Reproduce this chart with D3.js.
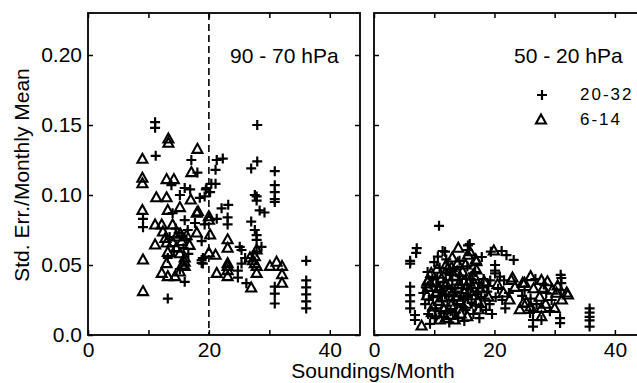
<!DOCTYPE html>
<html>
<head>
<meta charset="utf-8">
<script src="https://cdn.jsdelivr.net/npm/d3@7"></script>
<style>
  body { margin: 0; background: #fff; }
  svg { display: block; }
</style>
</head>
<body>
<div id="chart"></div>
<script>
// x = soundings per month, y = std. err. / monthly mean
const leftPlus = [
  [11.1, 0.152], [11.1, 0.148], [11.2, 0.128], [17.1, 0.125], [18.1, 0.116], [13.8, 0.107],
  [16.0, 0.105], [16.9, 0.104], [15.2, 0.100], [18.5, 0.098], [19.5, 0.104], [14.0, 0.087],
  [9.1, 0.083], [9.1, 0.077], [16.0, 0.082], [17.7, 0.080], [15.5, 0.071], [16.3, 0.068],
  [13.2, 0.055], [16.0, 0.038], [13.2, 0.026], [19.0, 0.055], [19.0, 0.051], [14.5, 0.076],
  [15.0, 0.073], [16.5, 0.075], [13.5, 0.070], [15.8, 0.062], [14.2, 0.060], [16.6, 0.058],
  [15.2, 0.047],
  [28.0, 0.150], [21.3, 0.125], [22.3, 0.126], [21.1, 0.118], [28.0, 0.124], [27.0, 0.119],
  [30.9, 0.117], [30.9, 0.107], [30.9, 0.102], [30.9, 0.097], [30.9, 0.095], [20.4, 0.108],
  [21.1, 0.108], [19.6, 0.105], [20.2, 0.102], [19.3, 0.099], [27.9, 0.099], [27.6, 0.100],
  [27.9, 0.096], [23.2, 0.093], [22.1, 0.0905], [23.1, 0.084], [23.1, 0.079], [28.4, 0.089],
  [29.2, 0.0875], [21.3, 0.083], [19.3, 0.079], [27.0, 0.081], [27.6, 0.075], [27.9, 0.0714],
  [27.9, 0.068], [28.7, 0.063], [27.9, 0.0595], [18.8, 0.067], [25.1, 0.063], [25.4, 0.0607],
  [18.8, 0.0535], [18.8, 0.0515], [26.0, 0.055], [25.4, 0.051], [24.8, 0.046], [24.8, 0.041],
  [26.2, 0.037], [30.9, 0.0345], [30.9, 0.0295], [30.9, 0.0225],
  [36.1, 0.053], [36.1, 0.039], [36.1, 0.034], [36.1, 0.029], [36.1, 0.024], [36.1, 0.019]
];

const leftTri = [
  [13.3, 0.140], [13.3, 0.137], [9.0, 0.1255], [18.1, 0.1326], [17.1, 0.116], [9.0, 0.112],
  [9.0, 0.108], [13.0, 0.111], [14.2, 0.111], [11.3, 0.098], [13.0, 0.098], [17.0, 0.0964],
  [9.0, 0.089], [13.2, 0.089], [15.2, 0.091], [18.2, 0.088], [11.1, 0.0786], [12.2, 0.0786],
  [14.0, 0.0786], [12.4, 0.0736], [11.1, 0.0643], [13.0, 0.0657], [13.2, 0.059], [15.5, 0.0667],
  [9.1, 0.0536], [13.0, 0.051], [16.0, 0.055], [16.0, 0.052], [16.0, 0.049], [15.6, 0.050],
  [12.2, 0.044], [13.2, 0.0417], [14.4, 0.0417], [15.2, 0.045], [9.1, 0.031], [14.6, 0.070],
  [15.3, 0.072], [16.3, 0.071], [14.0, 0.066], [12.8, 0.069], [16.8, 0.064], [14.6, 0.062],
  [15.2, 0.058],
  [18.0, 0.087], [18.0, 0.0729], [20.2, 0.0714], [20.0, 0.0845], [20.0, 0.082], [23.1, 0.068],
  [23.1, 0.062], [27.9, 0.0607], [27.6, 0.056], [27.6, 0.051], [27.9, 0.049], [27.9, 0.044],
  [27.3, 0.053], [20.0, 0.0586], [21.1, 0.057], [26.8, 0.055], [23.1, 0.051], [23.1, 0.049],
  [23.1, 0.046], [23.1, 0.0417], [21.3, 0.044], [27.0, 0.0336], [30.1, 0.049], [31.2, 0.052],
  [32.1, 0.049], [32.1, 0.043], [32.1, 0.037]
];

const rightPlus = [
  [10.8, 0.078], [7.1, 0.062], [7.0, 0.0586], [6.0, 0.053], [6.0, 0.051], [6.0, 0.0345],
  [6.0, 0.0285], [6.0, 0.024], [6.0, 0.019], [6.8, 0.0143], [6.8, 0.0107], [11.8, 0.0595],
  [10.6, 0.056], [11.4, 0.060], [15.6, 0.064], [15.6, 0.0607], [15.9, 0.065], [17.9, 0.0557],
  [19.4, 0.0595], [21.2, 0.060], [22.0, 0.057], [23.2, 0.0536], [20.1, 0.050], [20.1, 0.046],
  [20.1, 0.044], [20.9, 0.0417], [21.6, 0.039], [19.3, 0.039], [31.1, 0.0407], [31.1, 0.037],
  [31.0, 0.032], [31.0, 0.043], [30.9, 0.012], [30.9, 0.0085], [26.4, 0.0167], [26.4, 0.0107],
  [26.4, 0.006], [27.8, 0.0107], [25.9, 0.0157], [35.8, 0.019], [35.8, 0.016], [35.8, 0.013],
  [35.8, 0.0105], [35.8, 0.006], [8.9, 0.045],
  [8.2, 0.030], [8.5, 0.022], [9.0, 0.015], [9.4, 0.036], [9.8, 0.027], [10.2, 0.019],
  [10.5, 0.041], [10.9, 0.048], [11.0, 0.032], [11.3, 0.024], [11.6, 0.013], [11.9, 0.044],
  [12.1, 0.035], [12.4, 0.028], [12.7, 0.017], [13.0, 0.039], [13.2, 0.047], [13.5, 0.031],
  [13.8, 0.022], [14.0, 0.012], [14.3, 0.042], [14.6, 0.036], [14.9, 0.026], [15.2, 0.018],
  [15.5, 0.049], [15.7, 0.033], [16.0, 0.040], [16.2, 0.023], [16.5, 0.015], [16.8, 0.045],
  [17.1, 0.029], [17.4, 0.037], [17.7, 0.020], [18.0, 0.034], [18.4, 0.026], [18.8, 0.031],
  [19.2, 0.022], [19.6, 0.015], [20.2, 0.027], [20.6, 0.033], [21.3, 0.025], [21.8, 0.019],
  [22.4, 0.030], [10.0, 0.052], [12.0, 0.054], [14.2, 0.053], [9.3, 0.008], [12.5, 0.009],
  [15.0, 0.010], [17.5, 0.012], [25.0, 0.032], [26.0, 0.026], [27.0, 0.022], [28.6, 0.030],
  [29.5, 0.025], [28.2, 0.036], [26.8, 0.040], [24.6, 0.028], [29.2, 0.017],
  [8.6, 0.034], [9.1, 0.025], [9.7, 0.040], [10.1, 0.012], [10.4, 0.035], [10.7, 0.028],
  [11.1, 0.017], [11.5, 0.038], [11.8, 0.029], [12.2, 0.021], [12.6, 0.043], [12.9, 0.033],
  [13.3, 0.025], [13.6, 0.016], [13.9, 0.036], [14.5, 0.030], [14.8, 0.020], [15.3, 0.040],
  [15.6, 0.027], [16.1, 0.034], [16.4, 0.044], [16.9, 0.021], [17.3, 0.031], [17.8, 0.027],
  [18.2, 0.040], [18.6, 0.018], [19.0, 0.035]
];

const rightTri = [
  [7.9, 0.0064], [9.0, 0.039], [15.6, 0.057], [17.0, 0.0524], [17.0, 0.0464], [15.9, 0.0595],
  [16.9, 0.0536], [19.9, 0.060], [13.9, 0.051], [23.0, 0.0407], [22.8, 0.039], [26.0, 0.0417],
  [27.8, 0.039], [25.0, 0.037], [28.1, 0.0333], [24.7, 0.037], [32.2, 0.0286], [32.0, 0.030],
  [30.3, 0.0298], [30.0, 0.019], [25.3, 0.0229], [24.8, 0.0226], [27.8, 0.019], [27.8, 0.013],
  [10.9, 0.0107], [13.4, 0.0107], [8.9, 0.038], [9.0, 0.034],
  [9.5, 0.044], [10.3, 0.030], [10.8, 0.024], [11.2, 0.040], [11.6, 0.018], [12.2, 0.047],
  [12.5, 0.031], [12.8, 0.021], [13.3, 0.042], [13.6, 0.027], [14.1, 0.036], [14.4, 0.015],
  [14.7, 0.045], [15.0, 0.030], [15.4, 0.022], [15.8, 0.038], [16.3, 0.028], [16.6, 0.042],
  [17.2, 0.024], [17.6, 0.033], [18.3, 0.038], [19.0, 0.027], [20.5, 0.036], [21.5, 0.030],
  [22.5, 0.025], [23.4, 0.034], [9.8, 0.020], [11.9, 0.012], [13.0, 0.055], [14.0, 0.062],
  [12.0, 0.050], [10.5, 0.047], [26.5, 0.033], [27.5, 0.027], [28.8, 0.038], [29.6, 0.032],
  [31.2, 0.025], [26.0, 0.020], [28.5, 0.022], [30.5, 0.035],
  [8.8, 0.028], [9.6, 0.016], [10.1, 0.037], [10.9, 0.033], [11.4, 0.027], [12.0, 0.036],
  [12.6, 0.014], [13.1, 0.030], [13.8, 0.045], [14.3, 0.024], [14.9, 0.038], [15.5, 0.013],
  [16.0, 0.031], [16.7, 0.036], [17.4, 0.018], [12.9, 0.048], [15.2, 0.050], [24.2, 0.018]
];

const xTicks = [0, 10, 20, 30, 40];
const xLabels = [0, 20, 40];
const yTicks = [0, 0.05, 0.10, 0.15, 0.20];
const yLabels = ["0.0", "0.05", "0.10", "0.15", "0.20"];
const panelTitles = ["90 - 70 hPa", "50 - 20 hPa"];
const legendLabels = ["20-32", "6-14"];

const width = 637;
const height = 383;
const font = "'Liberation Sans', Arial, Helvetica, sans-serif";

const svg = d3.select("#chart").append("svg").attr("width", width).attr("height", height);

// shared y scale, one x scale per panel
const y = d3.scaleLinear().domain([0, 0.23]).range([335, 13]);
const xLeft = d3.scaleLinear().domain([0, 45]).range([88, 360]);
const xRight = d3.scaleLinear().domain([0, 45]).range([374, 645]);

const plusPath = "M-5,0H5M0,-5V5";
const triPath = "M0,-5.5L5,3.5L-5,3.5Z";

function drawPanel(x, plusData, triData, showYLabels) {
  const g = svg.append("g");
  const [x0, x1] = x.range();
  const [y0, y1] = y.range();

  // bottom / top ticks point inward
  g.append("g")
    .attr("transform", `translate(0,${y0})`)
    .call(d3.axisBottom(x).tickValues(xTicks).tickSize(-5).tickPadding(7)
      .tickFormat((d) => (xLabels.includes(d) ? d : "")));
  g.append("g")
    .attr("transform", `translate(0,${y1})`)
    .call(d3.axisTop(x).tickValues(xTicks).tickSize(-5).tickFormat(""));

  g.append("g")
    .attr("transform", `translate(${x0},0)`)
    .call(d3.axisLeft(y).tickValues(yTicks).tickSize(-5).tickPadding(6)
      .tickFormat((d, i) => (showYLabels ? yLabels[i] : "")));
  g.append("g")
    .attr("transform", `translate(${x1},0)`)
    .call(d3.axisRight(y).tickValues(yTicks).tickSize(-5).tickFormat(""));

  g.selectAll(".domain").remove();
  g.selectAll(".tick line").attr("stroke", "#000").attr("stroke-width", 1.5);
  g.selectAll(".tick text")
    .attr("font-family", font)
    .attr("font-size", "21px")
    .attr("fill", "#000");

  // frame
  g.append("rect")
    .attr("x", x0)
    .attr("y", y1)
    .attr("width", x1 - x0)
    .attr("height", y0 - y1)
    .attr("fill", "none")
    .attr("stroke", "#000")
    .attr("stroke-width", 1.8);

  g.selectAll(".tri")
    .data(triData)
    .enter()
    .append("path")
    .attr("class", "tri")
    .attr("d", triPath)
    .attr("transform", (d) => `translate(${x(d[0])},${y(d[1])})`)
    .attr("fill", "none")
    .attr("stroke", "#000")
    .attr("stroke-width", 2.1);

  g.selectAll(".plus")
    .data(plusData)
    .enter()
    .append("path")
    .attr("class", "plus")
    .attr("d", plusPath)
    .attr("transform", (d) => `translate(${x(d[0])},${y(d[1])})`)
    .attr("fill", "none")
    .attr("stroke", "#000")
    .attr("stroke-width", 2.2);

  return g;
}

const left = drawPanel(xLeft, leftPlus, leftTri, true);
const right = drawPanel(xRight, rightPlus, rightTri, false);

// dashed cut-off line at 20 soundings/month
left.append("line")
  .attr("x1", xLeft(20))
  .attr("x2", xLeft(20))
  .attr("y1", y(0.23))
  .attr("y2", y(0))
  .attr("stroke", "#000")
  .attr("stroke-width", 1.6)
  .attr("stroke-dasharray", "7,4");

// panel titles
left.append("text")
  .attr("x", 230).attr("y", 63)
  .attr("font-family", font).attr("font-size", "21px")
  .text(panelTitles[0]);
right.append("text")
  .attr("x", 514).attr("y", 63)
  .attr("font-family", font).attr("font-size", "21px")
  .text(panelTitles[1]);

// legend
const legend = right.append("g");
legend.append("path").attr("d", plusPath).attr("transform", "translate(542,95)")
  .attr("stroke", "#000").attr("stroke-width", 2.2).attr("fill", "none");
legend.append("path").attr("d", triPath).attr("transform", "translate(541,120)")
  .attr("stroke", "#000").attr("stroke-width", 2.1).attr("fill", "none");
legend.selectAll(".legText")
  .data(legendLabels)
  .enter()
  .append("text")
  .attr("class", "legText")
  .attr("x", 580)
  .attr("y", (d, i) => 100 + i * 25)
  .attr("font-family", font)
  .attr("font-size", "17px")
  .attr("letter-spacing", "2px")
  .text((d) => d);

// axis titles
svg.append("text")
  .attr("transform", "translate(29,175) rotate(-90)")
  .attr("text-anchor", "middle")
  .attr("font-family", font)
  .attr("font-size", "21px")
  .text("Std. Err./Monthly Mean");

svg.append("text")
  .attr("x", 373)
  .attr("y", 378)
  .attr("text-anchor", "middle")
  .attr("font-family", font)
  .attr("font-size", "21px")
  .text("Soundings/Month");
</script>
</body>
</html>
